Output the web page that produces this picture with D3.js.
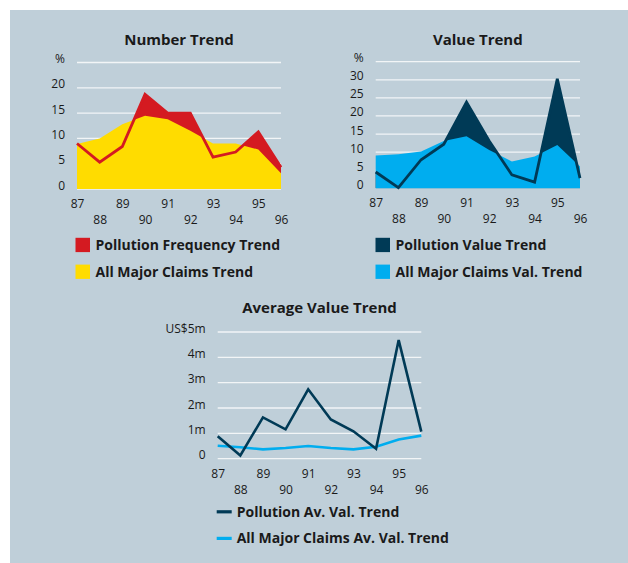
<!DOCTYPE html>
<html>
<head>
<meta charset="utf-8">
<script src="https://cdn.jsdelivr.net/npm/d3@7"></script>
<style>
  html, body { margin: 0; padding: 0; background: #ffffff; }
  svg { display: block; }
  text { font-family: "Open Sans", "Noto Sans", sans-serif; fill: #1a1a1a; }
</style>
</head>
<body>
<svg id="chart" width="628" height="563"></svg>
<script>
// ---- data ----
const years = ["87","88","89","90","91","92","93","94","95","96"];

const pollutionFrequency = [9.0, 5.3, 8.4, 18.7, 15.0, 15.0, 6.3, 7.3, 11.3, 4.3];
const allClaimsFrequency = [8.9, 10.0, 12.8, 14.5, 13.8, 11.5, 9.0, 9.0, 7.8, 3.1];

const pollutionValue = [4.5, 0.2, 7.9, 12.2, 23.8, 13.1, 3.7, 1.7, 30.3, 2.8];
const allClaimsValue = [9.1, 9.4, 10.2, 13.1, 14.4, 10.6, 7.4, 8.8, 12.0, 6.0];

const pollutionAverage = [0.89, 0.13, 1.63, 1.16, 2.74, 1.55, 1.08, 0.39, 4.68, 1.07];
const allClaimsAverage = [0.51, 0.45, 0.37, 0.42, 0.50, 0.42, 0.37, 0.47, 0.76, 0.91];

const numberTicks = [0, 5, 10, 15, 20, 25];
const numberTickLabels = ["0", "5", "10", "15", "20", "%"];
const valueTicks = [0, 5, 10, 15, 20, 25, 30, 35];
const valueTickLabels = ["0", "5", "10", "15", "20", "25", "30", "%"];
const averageTicks = [0, 1, 2, 3, 4, 5];
const averageTickLabels = ["0", "1m", "2m", "3m", "4m", "US$5m"];

const titles = ["Number Trend", "Value Trend", "Average Value Trend"];
const numberLegend = ["Pollution Frequency Trend", "All Major Claims Trend"];
const valueLegend = ["Pollution Value Trend", "All Major Claims Val. Trend"];
const averageLegend = ["Pollution Av. Val. Trend", "All Major Claims Av. Val. Trend"];

// ---- colours ----
const RED = "#d41a21", YELLOW = "#ffdc00", NAVY = "#003a56", BLUE = "#00adef";
const BG = "#bfcfd9", GRID = "#f2f5f7";

const svg = d3.select("#chart");
svg.append("rect").attr("x", 10).attr("y", 10).attr("width", 618).attr("height", 553).attr("fill", BG);

function panel(opts) {
  const x = d3.scalePoint().domain(years).range([opts.x0, opts.x1]).padding(0);
  const y = d3.scaleLinear().domain(opts.domain).range([opts.yBottom, opts.yTop]);
  const g = svg.append("g");

  // gridlines
  g.append("g").selectAll("line").data(opts.ticks).join("line")
    .attr("x1", opts.x0).attr("x2", opts.x1)
    .attr("y1", d => y(d)).attr("y2", d => y(d))
    .attr("stroke", GRID).attr("stroke-width", 1.3);

  // y axis labels
  const yAxis = d3.axisLeft(y).tickValues(opts.ticks)
    .tickFormat((d, i) => opts.tickLabels[i]).tickSize(0).tickPadding(12);
  const ya = g.append("g").attr("transform", `translate(${opts.x0},0)`).call(yAxis);
  ya.select(".domain").remove();
  ya.selectAll("text").attr("dy", "0").attr("font-size", 12)
    .attr("font-family", '"Open Sans", sans-serif').attr("fill", "#1a1a1a");

  // x axis labels (alternating rows)
  const xAxis = d3.axisBottom(x).tickSize(0);
  const xa = g.append("g").attr("transform", `translate(0,${opts.yBottom})`).call(xAxis);
  xa.select(".domain").remove();
  xa.selectAll("text").attr("dy", "0")
    .attr("y", (d, i) => i % 2 === 0 ? opts.row1 : opts.row2)
    .attr("font-size", 12)
    .attr("font-family", '"Open Sans", sans-serif').attr("fill", "#1a1a1a");

  // title
  g.append("text").attr("x", (opts.x0 + opts.x1) / 2).attr("y", opts.titleY)
    .attr("text-anchor", "middle").attr("font-size", 15).attr("font-weight", "bold")
    .text(opts.title);

  return { x, y, g };
}

function areaChart(opts, top, bottom, topColor, bottomColor) {
  const { x, y, g } = panel(opts);
  const area = d3.area().x((d, i) => x(years[i])).y0(y(0)).y1(d => y(d));
  const line = d3.line().x((d, i) => x(years[i])).y(d => y(d));
  g.append("path").datum(top).attr("d", area).attr("fill", topColor);
  g.append("path").datum(bottom).attr("d", area).attr("fill", bottomColor);
  g.append("path").datum(top).attr("d", line).attr("fill", "none")
    .attr("stroke", topColor).attr("stroke-width", 2.8).attr("stroke-linejoin", "miter");
  return g;
}

function squareLegend(lx, ly, labels, colors) {
  const lg = svg.append("g");
  labels.forEach((lab, i) => {
    lg.append("rect").attr("x", lx).attr("y", ly + i * 26.8).attr("width", 14.5).attr("height", 14.3)
      .attr("fill", colors[i]);
    lg.append("text").attr("x", lx + 20).attr("y", ly + i * 26.8 + 12)
      .attr("font-size", 14).attr("font-weight", "bold").text(lab);
  });
}

// Number Trend
areaChart({ x0: 77, x1: 281, yTop: 62.5, yBottom: 189, domain: [0, 25],
  ticks: numberTicks, tickLabels: numberTickLabels, row1: 18.5, row2: 34.5,
  titleY: 44.5, title: titles[0] }, pollutionFrequency, allClaimsFrequency, RED, YELLOW);
squareLegend(75.5, 237.8, numberLegend, [RED, YELLOW]);

// Value Trend
areaChart({ x0: 375.7, x1: 580, yTop: 61.7, yBottom: 188.3, domain: [0, 35],
  ticks: valueTicks, tickLabels: valueTickLabels, row1: 19, row2: 35,
  titleY: 44.5, title: titles[1] }, pollutionValue, allClaimsValue, NAVY, BLUE);
squareLegend(375.5, 237.8, valueLegend, [NAVY, BLUE]);

// Average Value Trend
(function () {
  const opts = { x0: 217.7, x1: 421.3, yTop: 332, yBottom: 458.7, domain: [0, 5],
    ticks: averageTicks, tickLabels: averageTickLabels, row1: 19.1, row2: 35.3,
    titleY: 312.8, title: titles[2] };
  const { x, y, g } = panel(opts);
  const line = d3.line().x((d, i) => x(years[i])).y(d => y(d));
  g.append("path").datum(allClaimsAverage).attr("d", line).attr("fill", "none")
    .attr("stroke", BLUE).attr("stroke-width", 2.6);
  g.append("path").datum(pollutionAverage).attr("d", line).attr("fill", "none")
    .attr("stroke", NAVY).attr("stroke-width", 2.6);

  const lg = svg.append("g");
  [NAVY, BLUE].forEach((c, i) => {
    lg.append("rect").attr("x", 216.7).attr("y", 510.2 + i * 26.6).attr("width", 15).attr("height", 3.2).attr("fill", c);
    lg.append("text").attr("x", 236.7).attr("y", 516.8 + i * 26.6)
      .attr("font-size", 14).attr("font-weight", "bold").text(averageLegend[i]);
  });
})();
</script>
</body>
</html>
